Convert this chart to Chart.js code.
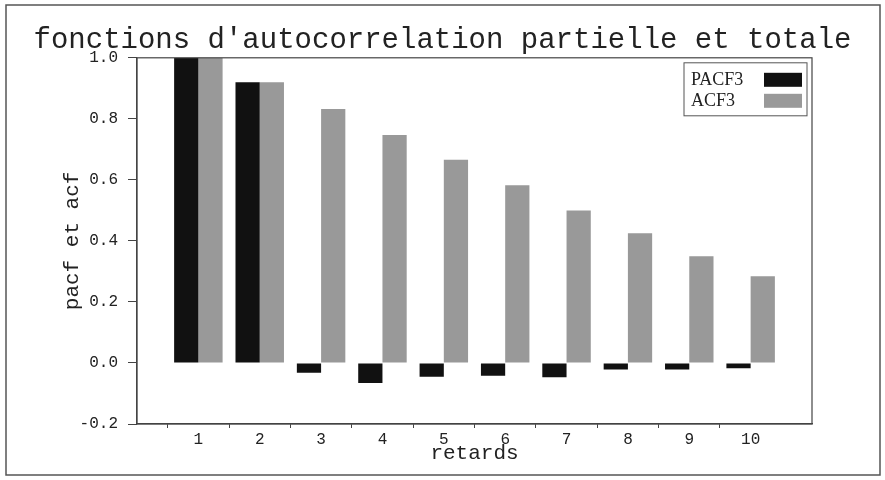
<!DOCTYPE html>
<html>
<head>
<meta charset="utf-8">
<script src="https://cdn.jsdelivr.net/npm/chart.js@4.4.1/dist/chart.umd.min.js"></script>
<style>
  html, body { margin: 0; padding: 0; background: #fff; }
  #wrap { width: 885px; height: 480px; }
</style>
</head>
<body>
<div id="wrap"><canvas id="c" width="885" height="480"></canvas></div>
<script>
// lags (retards) and the two series
const lags = [1, 2, 3, 4, 5, 6, 7, 8, 9, 10];
const pacf3 = [1.0, 0.92, -0.032, -0.066, -0.045, -0.042, -0.047, -0.021, -0.021, -0.017];
const acf3 = [1.0, 0.92, 0.832, 0.747, 0.666, 0.582, 0.50, 0.425, 0.35, 0.284];
const yTicks = [-0.2, 0.0, 0.2, 0.4, 0.6, 0.8, 1.0];
const xTickMarks = [0.5, 1.5, 2.5, 3.5, 4.5, 5.5, 6.5, 7.5, 8.5, 9.5];

const mono = 'Liberation Mono, DejaVu Sans Mono, monospace';

// frame, plot box and legend (text left, swatch right)
const framePlugin = {
  id: 'frame',
  beforeDraw(chart) {
    const ctx = chart.ctx;
    ctx.save();
    ctx.fillStyle = '#fff';
    ctx.fillRect(0, 0, chart.width, chart.height);
    ctx.restore();
  },
  afterDraw(chart) {
    const {ctx, chartArea: a} = chart;
    ctx.save();
    ctx.strokeStyle = '#555';
    ctx.lineWidth = 1.5;
    ctx.strokeRect(6, 5, 874, 470);
    ctx.strokeStyle = '#444';
    ctx.lineWidth = 1.2;
    ctx.strokeRect(a.left, a.top, a.right - a.left, a.bottom - a.top);

    // legend
    const bx = a.right - 128, by = a.top + 5, bw = 123, bh = 53;
    ctx.fillStyle = '#fff';
    ctx.fillRect(bx, by, bw, bh);
    ctx.strokeStyle = '#555';
    ctx.lineWidth = 1;
    ctx.strokeRect(bx, by, bw, bh);
    ctx.font = '18px "Liberation Serif", serif';
    ctx.textBaseline = 'middle';
    chart.data.datasets.forEach((ds, i) => {
      const cy = by + 17 + i * 21;
      ctx.fillStyle = '#222';
      ctx.fillText(ds.label, bx + 7, cy);
      ctx.fillStyle = ds.backgroundColor;
      ctx.fillRect(bx + bw - 43, cy - 7, 38, 14);
    });
    ctx.restore();
  }
};

new Chart(document.getElementById('c'), {
  type: 'bar',
  data: {
    datasets: [
      {
        label: 'PACF3',
        data: lags.map((l, i) => ({x: l, y: pacf3[i]})),
        backgroundColor: '#111111'
      },
      {
        label: 'ACF3',
        data: lags.map((l, i) => ({x: l, y: acf3[i]})),
        backgroundColor: '#999999'
      }
    ]
  },
  options: {
    responsive: false,
    animation: false,
    layout: { padding: { left: 0, top: 0, right: 0, bottom: 8 } },
    categoryPercentage: 0.79,
    barPercentage: 1.0,
    plugins: {
      legend: { display: false },
      tooltip: { enabled: false },
      title: {
        display: true,
        text: "fonctions d'autocorrelation partielle et totale",
        color: '#222',
        font: { family: mono, size: 29, weight: 'normal' },
        padding: { top: 23, bottom: 0 }
      }
    },
    scales: {
      x: {
        type: 'linear',
        min: 0,
        max: 11,
        offset: false,
        afterBuildTicks: (scale) => {
          scale.ticks = xTickMarks.map(v => ({value: v}));
        },
        afterFit: (scale) => { scale.height = 48; },
        ticks: {
          color: '#222',
          font: { family: mono, size: 16 },
          padding: 2,
          labelOffset: 30.7,
          maxRotation: 0,
          autoSkip: false,
          callback: (v) => String(v + 0.5)
        },
        grid: {
          offset: false,
          drawOnChartArea: false,
          drawTicks: true,
          tickLength: 4,
          color: '#444'
        },
        border: { display: true, color: '#444', width: 1.2 },
        title: {
          display: true,
          text: 'retards',
          color: '#222',
          font: { family: mono, size: 21 },
          padding: { top: 0, bottom: 6 }
        }
      },
      y: {
        min: -0.2,
        max: 1.0,
        afterBuildTicks: (scale) => {
          scale.ticks = yTicks.map(v => ({value: v}));
        },
        afterFit: (scale) => { scale.width = 137; },
        ticks: {
          color: '#222',
          font: { family: mono, size: 16 },
          padding: 10,
          callback: (v) => v.toFixed(1)
        },
        grid: {
          drawOnChartArea: false,
          drawTicks: true,
          tickLength: 9,
          color: '#444'
        },
        border: { display: true, color: '#444', width: 1.2 },
        title: {
          display: true,
          text: 'pacf et acf',
          color: '#222',
          font: { family: mono, size: 21 },
          padding: { top: 60, bottom: 0 }
        }
      },
      // empty right margin so the plot stops at the same place as the original
      yRight: {
        position: 'right',
        min: -0.2,
        max: 1.0,
        afterFit: (scale) => { scale.width = 73; },
        ticks: { display: false },
        grid: { display: false },
        border: { display: false }
      }
    }
  },
  plugins: [framePlugin]
});
</script>
</body>
</html>
